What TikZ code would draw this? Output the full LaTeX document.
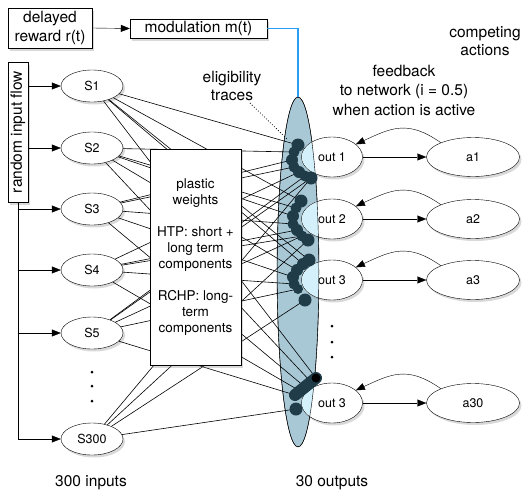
\documentclass[tikz,border=0pt]{standalone}
\usepackage{fontspec}
\setmainfont{TeX Gyre Heros}
\usetikzlibrary{shapes.geometric,arrows.meta,shadows,calc}
\definecolor{bigfill}{HTML}{A9C8D6}
\definecolor{overlapfill}{HTML}{D4F0FB}
\definecolor{dotc}{HTML}{1F3C48}
\definecolor{modblue}{HTML}{2A9DF4}
\begin{document}
\begin{tikzpicture}[x=1pt,y=1pt,
  tip/.style={-{Triangle[length=9pt,width=7pt]}},
  shad/.style={drop shadow={opacity=0.3,shadow xshift=2pt,shadow yshift=-2.5pt}},
  snode/.style={ellipse,draw,fill=white,shad,minimum width=62pt,minimum height=32pt,inner sep=0pt,font=\fontsize{12.5}{15}\selectfont},
  anode/.style={ellipse,draw,fill=white,shad,minimum width=93pt,minimum height=39pt,inner sep=0pt,font=\fontsize{12.5}{15}\selectfont},
  onode/.style={ellipse,draw,fill=white,shad,minimum width=61pt,minimum height=40pt,inner sep=0pt},
  olbl/.style={font=\fontsize{12.5}{15}\selectfont,inner sep=0pt},
  bigtext/.style={font=\fontsize{15.5}{18.5}\selectfont,align=center,inner sep=0pt},
  boxnode/.style={draw,fill=white,shad,inner sep=0pt},
  conn/.style={line width=0.6pt},
  fb/.style={tip,out=145,in=25,looseness=1.2}
]
\useasboundingbox (0,0) rectangle (522,-493);

% texts
\node[bigtext] (comp) at (485,-41) {competing\\actions};
\node[bigtext,font=\fontsize{15.5}{19.5}\selectfont] (fbt) at (404,-90) {feedback\\to network (i = 0.5)\\when action is active};
\node[bigtext] (elig) at (232,-86) {eligibility\\traces};
\node[bigtext] (in300) at (91,-483) {300 inputs};
\node[bigtext] (out30) at (332,-483) {30 outputs};

% reward / modulation
\node[boxnode,bigtext,minimum width=84pt,minimum height=40pt] (rew) at (50,-28) {delayed\\reward r(t)};
\node[boxnode,bigtext,minimum width=137pt,minimum height=19pt] (mod) at (198.5,-28.5) {modulation m(t)};
\draw[tip] (rew.east) -- (mod.west);

% big ellipse
\node[ellipse,draw,fill=bigfill,minimum width=42pt,minimum height=350pt,inner sep=0pt] (big) at (298,-272) {};
\draw[modblue,line width=1.8pt] (mod.east) -| (big.north);

% output nodes
\node[onode] (o1) at (332,-157) {};
\node[onode] (o2) at (332,-219) {};
\node[onode] (o3) at (332,-280) {};
\node[onode] (o4) at (332,-403) {};
\begin{scope}
  \clip (big.center) ellipse [x radius=21pt,y radius=175pt];
  \foreach \o in {o1,o2,o3,o4}
    \fill[overlapfill] (\o.center) ellipse [x radius=30pt,y radius=19.6pt];
\end{scope}
\draw (big.center) ellipse [x radius=20.8pt,y radius=174.8pt];

% input nodes
\node[snode] (S1) at (92,-86) {S1};
\node[snode] (S2) at (92,-148) {S2};
\node[snode] (S3) at (92,-209) {S3};
\node[snode] (S4) at (92,-270) {S4};
\node[snode] (S5) at (92,-333) {S5};
\node[snode] (S300) at (92,-439) {S300};
\foreach \y in {372,386,401} \fill (92,-\y) circle (1.5pt);

% synapse positions
\foreach \x/\y [count=\k] in {298/145,294/152,292/160,294/167,299/172,305/176,311/178}
  \coordinate (d1-\k) at (\x,-\y);
\foreach \x/\y [count=\k] in {301/201,296/208,293/216,293/224,297/230,302/236,308/240}
  \coordinate (d2-\k) at (\x,-\y);
\foreach \x/\y [count=\k] in {309/260,303/264,297/270,293/277,294/284,298/289,305/300}
  \coordinate (d3-\k) at (\x,-\y);
\coordinate (d4-1) at (316,-378);
\coordinate (d4-2) at (311,-382);
\coordinate (d4-3) at (305,-387);
\coordinate (d4-4) at (300,-391);
\coordinate (d4-5) at (295,-395);
\coordinate (d4-6) at (296,-409);

% connections
\foreach \s/\t in {S1/1-1,S1/2-1,S1/3-1,S1/4-1,S1/3-2,
    S2/1-2,S2/2-2,S2/3-3,S2/4-2,S2/2-3,
    S3/1-3,S3/2-4,S3/3-4,S3/4-3,S3/1-4,
    S4/1-5,S4/2-5,S4/3-5,S4/4-4,S4/2-6,
    S5/1-6,S5/2-6,S5/3-6,S5/4-5,S5/1-7,
    S300/1-7,S300/2-7,S300/3-7,S300/4-6}
  \draw[conn] (\s) -- (d\t);

% plastic weights box
\node[boxnode,minimum width=91pt,minimum height=216pt,align=center,font=\fontsize{13.5}{16}\selectfont] (pw) at (195.5,-257)
  {plastic\\weights\\[16pt]HTP: short +\\long term\\components\\[16pt]RCHP: long-\\term\\components};

% synapse dots
\foreach \k/\r in {1/6.5,2/5.5,3/6,4/5.5,5/6,6/5.5,7/6.5} {
  \fill[dotc] (d1-\k) circle (\r pt);
  \fill[dotc] (d2-\k) circle (\r pt);
}
\foreach \k/\r in {1/6.5,2/6,3/6,4/6,5/5.5,6/5,7/6.5}
  \fill[dotc] (d3-\k) circle (\r pt);
\draw[dotc,line width=12pt,line cap=round] (d4-1) -- (d4-5);
\fill[black] (d4-1) circle (4.5pt);
\fill[dotc] (d4-6) circle (6.5pt);

% eligibility pointer
\coordinate (es) at (250,-103);
\coordinate (ee) at (288,-140);
\draw[dotted,line width=0.8pt] (es) -- (ee);

% output labels
\node[olbl] (l1) at (o1) {out 1};
\node[olbl] (l2) at (o2) {out 2};
\node[olbl] (l3) at (o3) {out 3};
\node[olbl] (l4) at (o4) {out 3};
\foreach \y in {326,342,357} \fill (332,-\y) circle (1.5pt);

% actions
\node[anode] (a1) at (473,-157) {a1};
\node[anode] (a2) at (473,-219) {a2};
\node[anode] (a3) at (473,-280) {a3};
\node[anode] (a30) at (473,-403) {a30};
\foreach \o/\a in {o1/a1,o2/a2,o3/a3,o4/a30} {
  \draw[tip] (\o.east) -- (\a.west);
  \draw[fb] (\a.156) to (\o.28);
}

% random input flow
\node[boxnode,bigtext,rotate=90,minimum width=140pt,minimum height=20pt] (rif) at (18,-132) {random input flow};
\draw[tip] (rif.west) |- (S300.west);
\draw[tip] (rif.south |- S1.west) -- (S1.west);
\draw[tip] (rif.south |- S2.west) -- (S2.west);
\draw[tip] (rif.west |- S3.west) -- (S3.west);
\draw[tip] (rif.west |- S4.west) -- (S4.west);
\draw[tip] (rif.west |- S5.west) -- (S5.west);
\end{tikzpicture}
\end{document}
